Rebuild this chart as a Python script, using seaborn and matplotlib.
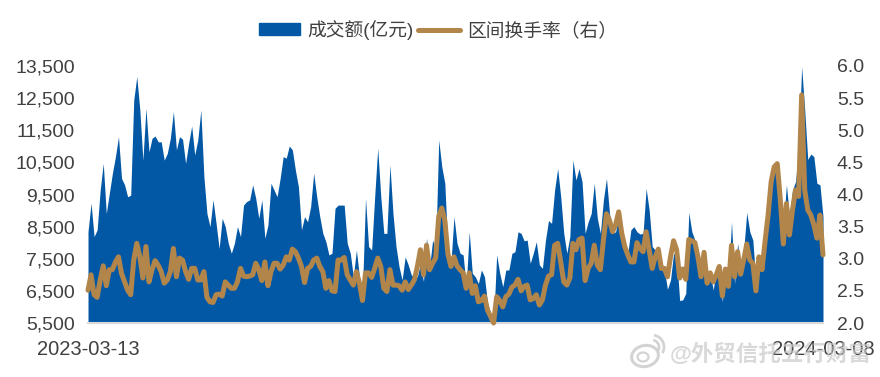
import matplotlib
matplotlib.use("Agg")
import numpy as np
import seaborn as sns
import matplotlib.pyplot as plt
from matplotlib.lines import Line2D
from matplotlib.patches import Ellipse, Patch, Arc

# turnover in 100m yuan
amount = [
    8340, 9230, 8190, 8400, 9640, 10470, 8910, 9540, 10160, 10680, 11300, 10000, 9800, 9430, 9480,
    12440, 13170, 12130, 10570, 12180, 10830, 11250, 11320, 11140, 11140, 10570, 10780, 11250, 12080,
    10890, 11300, 11220, 10470, 11090, 11630, 10730, 11200, 12130, 10060, 8910, 8500, 9330, 8600, 7820,
    8760, 8500, 7980, 7670, 7980, 8500, 8190, 9170, 9280, 9330, 9800, 9380, 8760, 9330, 8140, 8550,
    9850, 9640, 9430, 10000, 10680, 10630, 11010, 10890, 10260, 9740, 8400, 8810, 8650, 9120, 10160,
    9430, 8810, 8290, 8030, 7620, 7670, 9070, 9170, 9170,
    9170, 7980, 7670, 6940, 7770, 6940, 6530, 9380, 7880, 7770, 9430, 10940, 9430, 8290, 8290, 10420,
    8910, 7880, 7250, 6840, 7560, 7310, 7000, 6940, 6940, 7360, 6790, 8140, 7250, 8080, 7770, 11200,
    10370, 9850, 7770, 7360, 8810, 7980, 7670, 7620, 6630, 8340, 7050, 6940, 6730, 7150, 6940, 6110,
    5800, 5540, 7620, 7050, 6630, 7150, 7150, 7670, 7720, 8340, 8290, 8060, 8080, 7360, 7670, 8030,
    7310, 7200, 8080, 8690, 8600, 9640, 10310, 9430, 8290, 7670, 8190, 10570, 9950, 10310,
    9900, 8290, 8650, 8910, 9850, 8760, 8290, 9330, 10000, 8910, 8290, 8340, 8810, 8400, 7880, 7670,
    8400, 8500, 8340, 8270, 8290, 9690, 9020, 7880, 7770, 7560, 7250, 7150, 6550, 6840, 7670, 7560,
    6200, 6220, 6420, 8940, 8340, 8080, 7770, 6940, 7670, 7150, 7050, 6530, 7150, 7250, 6160, 7150,
    6840, 8650, 6730, 7980, 7250, 7770, 8940, 8340, 8080, 6730, 7560, 7360, 8290, 8810, 9850, 10370,
    10420, 9640, 8500, 9800, 8810, 9640, 9900, 10890, 13480, 12130, 10590, 10760, 10680, 9850, 9800, 8810,
]

# interval turnover rate, right axis
turnover = [
    2.51, 2.75, 2.44, 2.40, 2.67, 2.89, 2.58, 2.83, 2.83, 2.95, 3.03, 2.77, 2.64, 2.51, 2.44,
    2.98, 3.24, 3.03, 2.70, 3.19, 2.64, 2.83, 2.97, 2.90, 2.80, 2.62, 2.67, 2.80, 3.16,
    2.72, 3.01, 2.98, 2.80, 2.68, 2.85, 2.85, 2.67, 2.67, 2.80, 2.40, 2.33, 2.32, 2.44, 2.45,
    2.42, 2.64, 2.59, 2.54, 2.54, 2.64, 2.85, 2.73, 2.72, 2.73, 2.75, 2.93, 2.83, 2.66, 2.95, 2.58,
    2.80, 2.93, 2.93, 2.84, 2.90, 3.03, 2.98, 3.15, 3.11, 3.01, 2.88, 2.63, 2.85, 2.88, 2.98,
    3.01, 2.88, 2.80, 2.54, 2.66, 2.50, 2.49, 2.98, 2.98,
    3.02, 2.75, 2.67, 2.59, 2.80, 2.62, 2.35, 2.78, 2.78, 2.71, 2.85, 3.01, 2.88, 2.54, 2.49, 2.83,
    2.59, 2.59, 2.58, 2.51, 2.64, 2.52, 2.59, 2.67, 2.88, 3.14, 2.75, 3.21, 2.83, 2.93, 3.01, 3.66,
    3.79, 3.60, 3.08, 2.88, 3.03, 2.89, 2.83, 2.78, 2.54, 2.78, 2.46, 2.58, 2.33, 2.35, 2.42, 2.20,
    2.10, 2.00, 2.41, 2.35, 2.25, 2.41, 2.45, 2.56, 2.59, 2.68, 2.50, 2.57, 2.59, 2.36, 2.38, 2.44,
    2.28, 2.36, 2.59, 2.73, 2.75, 3.21, 3.24, 2.95, 2.64, 2.59, 2.70, 3.24, 3.14, 3.30,
    3.32, 2.66, 2.85, 2.93, 3.21, 2.90, 2.83, 3.29, 3.70, 3.60, 3.42, 3.53, 3.73, 3.40, 3.19, 3.06,
    2.95, 2.95, 3.25, 3.16, 3.11, 3.42, 3.14, 2.85, 3.03, 3.15, 2.85, 2.85, 2.72, 3.03, 3.28, 3.14,
    2.70, 2.84, 2.68, 3.30, 3.28, 3.25, 3.03, 2.72, 3.10, 2.62, 2.78, 2.64, 2.75, 2.88, 2.42, 2.84,
    2.57, 3.21, 2.72, 3.11, 2.76, 2.98, 3.23, 2.98, 2.93, 2.50, 3.03, 2.83, 3.27, 3.68, 4.20, 4.43,
    4.48, 3.92, 3.23, 3.86, 3.37, 3.76, 4.07, 3.97, 5.55, 4.07, 3.76, 3.68, 3.53, 3.32, 3.68, 3.06,
]

left_ticks = [5500, 6500, 7500, 8500, 9500, 10500, 11500, 12500, 13500]
right_ticks = [2.0, 2.5, 3.0, 3.5, 4.0, 4.5, 5.0, 5.5, 6.0]
date_labels = ["2023-03-13", "2024-03-08"]

BLUE = "#0358A6"
BROWN = "#B2854A"
GREY = "#404040"
W, H = 880, 377

sns.set_theme(style="white")
plt.rcParams['font.family'] = ['Liberation Sans', 'Noto Sans CJK SC', 'DejaVu Sans']

x = np.arange(len(amount))

fig = plt.figure(figsize=(8.8, 3.77), dpi=100)
ax = fig.add_axes([88 / W, (H - 323) / H, 735 / W, 257 / H])

ax.fill_between(x, amount, 5500, color=BLUE, linewidth=0)
ax.set_xlim(0, len(amount) - 1)
ax.set_ylim(5500, 13500)
ax.set_yticks(left_ticks)
ax.set_yticklabels([f"{v:,}" for v in left_ticks], fontsize=14, color=GREY)
ax.set_xticks([0, len(amount) - 1])
ax.set_xticklabels(date_labels, fontsize=14.5, color=GREY)
ax.tick_params(axis="x", length=0, pad=12)
ax.tick_params(axis="y", length=0, pad=9.5)
for s in ["top", "left", "right"]:
    ax.spines[s].set_visible(False)
ax.spines["bottom"].set_color("#D9D9D9")
ax.spines["bottom"].set_linewidth(1.5)

ax2 = ax.twinx()
sns.lineplot(x=x, y=turnover, ax=ax2, color=BROWN, linewidth=3.6, clip_on=False,
             solid_joinstyle="round", solid_capstyle="round")
ax2.set_ylim(2.0, 6.0)
ax2.set_yticks(right_ticks)
ax2.set_yticklabels([f"{v:.1f}" for v in right_ticks], fontsize=14, color=GREY)
ax2.tick_params(axis="y", length=0, pad=10)
for s in ["top", "left", "right", "bottom"]:
    ax2.spines[s].set_visible(False)

handles = [Patch(color=BLUE), Line2D([], [], color=BROWN, linewidth=3.6)]
fig.legend(handles, ["成交额(亿元)", "区间换手率（右）"], ncol=2, frameon=False,
           loc="center", bbox_to_anchor=(438 / W, 1 - 30 / H), fontsize=13.5,
           labelcolor=GREY, handlelength=2.2, handleheight=0.62,
           handletextpad=0.4, columnspacing=0.25, borderpad=0)

# watermark, bottom right
mark = "#C9C9C9"
wm = fig.add_axes([0, 0, 1, 1], facecolor="none")
wm.set_xlim(0, W)
wm.set_ylim(H, 0)
wm.axis("off")
wm.text(670, 355, "@外贸信托五行财富", fontsize=16.2, color=mark, alpha=0.7,
        va="center", ha="left", fontweight="bold")
wm.add_patch(Ellipse((645, 356), 27, 21, angle=-12, fill=False, ec=mark, lw=2.2, alpha=0.8))
wm.add_patch(Ellipse((643, 357), 11, 9, fill=False, ec=mark, lw=1.6, alpha=0.8))
wm.add_patch(Arc((652, 347), 14, 14, theta1=-80, theta2=30, ec=mark, lw=2, alpha=0.8))
wm.add_patch(Arc((652, 347), 24, 24, theta1=-80, theta2=30, ec=mark, lw=2, alpha=0.8))

fig.savefig("out.png", dpi=100)
